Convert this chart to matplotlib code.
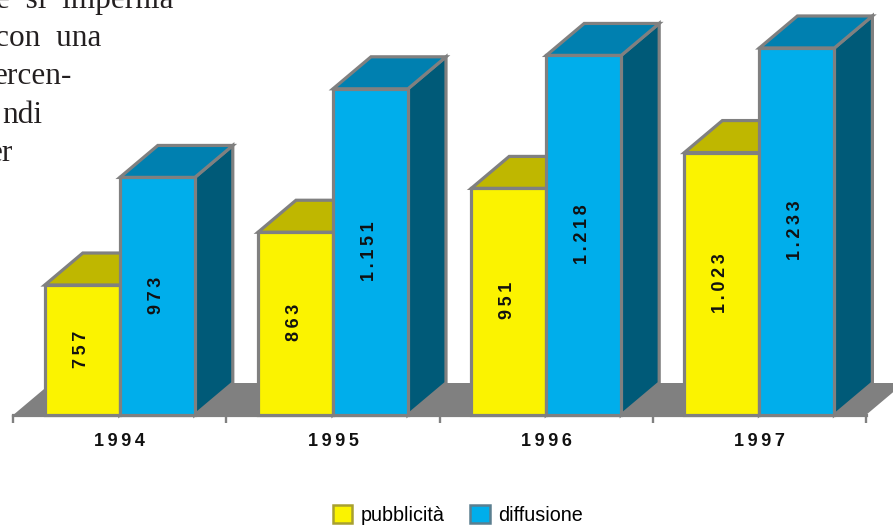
import numpy as np
import matplotlib
matplotlib.use('Agg')
import matplotlib.pyplot as plt
from matplotlib.patches import Patch

years = ['1994', '1995', '1996', '1997']
pubblicita = [757, 863, 951, 1023]
diffusione = [973, 1151, 1218, 1233]
pubblicita_labels = ['757', '863', '951', '1.023']
diffusione_labels = ['973', '1.151', '1.218', '1.233']
body_lines = ['e  si  impernia', 'con  una', 'ercen-', 'ndi', 'er']

W, H = 893, 527
GREY = '#808080'
THIN = '\u2009'

# axes fill the figure, limits picked so the value axis lines up with the picture
PX_PER_UNIT_Y = 0.498
PX_PER_CAT = 213.2
YMIN = 496
base_px = 415
x0_px = 119.8
ylim = (YMIN - (H - base_px) / PX_PER_UNIT_Y, YMIN + base_px / PX_PER_UNIT_Y)
xlim = (-x0_px / PX_PER_CAT, (W - x0_px) / PX_PER_CAT)
bar_w = 75 / PX_PER_CAT
dx = 38 / PX_PER_CAT
dy = 32 / PX_PER_UNIT_Y


def spaced(s):
    return THIN.join(s)


def draw_box(ax, left, value, front, top, side, z):
    right = left + bar_w
    kw = dict(edgecolor=GREY, linewidth=2.3, joinstyle='miter', zorder=z)
    ax.fill([right, right + dx, right + dx, right], [YMIN, YMIN + dy, value + dy, value], side, **kw)
    ax.fill([left, left + dx, right + dx, right], [value, value + dy, value + dy, value], top, **kw)
    ax.bar(left, value - YMIN, bar_w, bottom=YMIN, align='edge', color=front, **kw)


fig = plt.figure(figsize=(W / 100, H / 100), dpi=100)
ax = fig.add_axes([0, 0, 1, 1])
ax.set_xlim(*xlim)
ax.set_ylim(*ylim)
ax.axis('off')

n = len(years)
floor_l, floor_r = -0.5, n - 0.5
ax.fill([floor_l, floor_r, floor_r + dx, floor_l + dx], [YMIN, YMIN, YMIN + dy, YMIN + dy],
        color=GREY, lw=0, zorder=1)
ax.plot([floor_l, floor_r], [YMIN, YMIN], color=GREY, lw=2.3, zorder=2)
ax.vlines(np.arange(n + 1) - 0.5, YMIN - 8 / PX_PER_UNIT_Y, YMIN, color=GREY, lw=1.7, zorder=2)

bold = dict(fontsize=13, fontweight='bold', family=['Liberation Sans', 'DejaVu Sans'], color='#111111')
for i in range(n):
    z = 3 + i
    draw_box(ax, i - bar_w, pubblicita[i], '#fbf300', '#bfb700', '#8a8400', z)
    draw_box(ax, i, diffusione[i], '#00aeeb', '#0080b0', '#005a78', z + 0.5)
    for left, val, lab in [(i - bar_w, pubblicita[i], pubblicita_labels[i]),
                           (i, diffusione[i], diffusione_labels[i])]:
        ax.text(left + bar_w / 2 - 1 / PX_PER_CAT, (val + YMIN) / 2 + 1 / PX_PER_UNIT_Y, spaced(lab),
                rotation=90, ha='center', va='center', zorder=20, **bold)
    ax.text(i, YMIN - 26 / PX_PER_UNIT_Y, spaced(years[i]), ha='center', va='center', **bold)

body_right = [174, 101, 72, 42, 13]
body_base = [8, 46, 84, 123, 161]
for line, xr, yb in zip(body_lines, body_right, body_base):
    fig.text(xr / W, 1 - yb / H, line, ha='right', va='baseline', family='Liberation Serif',
             fontsize=22.5, color='#231f20')

handles = [Patch(facecolor='#fbf300', edgecolor='#a8a030', lw=1.8),
           Patch(facecolor='#00aeeb', edgecolor='#5a7f90', lw=1.8)]
ax.legend(handles, ['pubblicità', 'diffusione'], ncols=2, frameon=False,
          loc='center', bbox_to_anchor=(458 / W, 1 - 515 / H), handlelength=0.97, handleheight=0.97,
          columnspacing=1.3, handletextpad=0.45, borderpad=0,
          prop={'family': 'Liberation Sans', 'size': 14.2})

fig.savefig('out.png', dpi=100)
